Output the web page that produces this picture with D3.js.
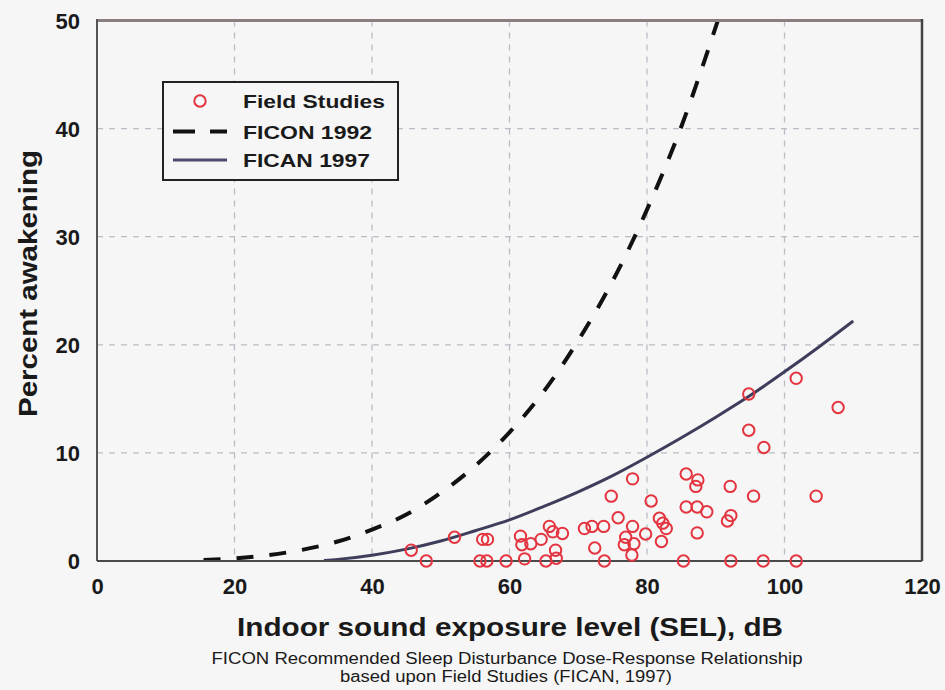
<!DOCTYPE html>
<html>
<head>
<meta charset="utf-8">
<script src="https://cdn.jsdelivr.net/npm/d3@7"></script>
<style>
  html, body { margin: 0; padding: 0; background: #f6f6f6; }
  svg { display: block; }
  text { font-family: "Liberation Sans", Arial, Helvetica, sans-serif; fill: #1a1a1a; }
</style>
</head>
<body>
<svg id="chart" width="945" height="690"></svg>
<script>
// ---- Data ----
const xTicks = [0, 20, 40, 60, 80, 100, 120];
const yTicks = [0, 10, 20, 30, 40, 50];

// Field studies: SEL (dB) and percent awakening
const fieldSEL = [45.7, 47.9, 52.0, 56.1, 56.8, 55.7, 56.7, 59.5, 61.6, 61.8,
                  62.2, 63.1, 64.6, 65.8, 66.3, 67.7, 66.7, 65.3, 66.8, 70.9,
                  72.0, 73.7, 75.8, 72.4, 73.8, 74.8, 77.9, 77.9, 76.9, 78.1,
                  79.8, 77.8, 80.6, 81.8, 82.3, 82.8, 82.1, 85.7, 87.4, 87.1,
                  92.1, 95.5, 104.6, 85.7, 87.3, 88.7, 92.2, 91.7, 87.3, 85.3,
                  92.2, 96.9, 101.7, 94.8, 101.7, 107.8, 94.8, 97.0, 76.7];
const fieldPct = [1.0, 0.0, 2.2, 2.0, 2.0, 0.0, 0.0, 0.0, 2.3, 1.5,
                  0.2, 1.6, 2.0, 3.2, 2.7, 2.55, 1.0, 0.0, 0.25, 3.0,
                  3.2, 3.2, 4.0, 1.2, 0.0, 6.0, 7.6, 3.2, 2.2, 1.6,
                  2.5, 0.55, 5.55, 3.95, 3.5, 3.0, 1.8, 8.05, 7.5, 6.9,
                  6.9, 6.0, 6.0, 5.0, 5.0, 4.55, 4.2, 3.7, 2.6, 0.0,
                  0.0, 0.0, 0.0, 15.45, 16.9, 14.2, 12.1, 10.5, 1.5];

// FICON 1992 curve (dashed)
const ficonSEL = [15.5, 20, 25, 30, 35, 40, 45, 50, 55, 60, 65, 70, 75, 80, 85, 90.3];
const ficonPct = [0.1, 0.25, 0.55, 1.05, 1.8, 2.9, 4.3, 6.3, 8.8, 11.9, 15.7, 20.4, 25.9, 32.5, 40.2, 50];

// FICAN 1997 curve (solid)
const ficanSEL = [33, 35, 40, 45, 50, 55, 60, 65, 70, 75, 80, 85, 90, 95, 100, 105, 110];
const ficanPct = [0.05, 0.15, 0.54, 1.1, 1.85, 2.8, 3.8, 5.05, 6.4, 7.9, 9.6, 11.4, 13.3, 15.3, 17.5, 19.8, 22.2];

const legendLabels = ["Field Studies", "FICON 1992", "FICAN 1997"];
const xTitle = "Indoor sound exposure level (SEL), dB";
const yTitle = "Percent awakening";
const caption = ["FICON Recommended Sleep Disturbance Dose-Response Relationship",
                 "based upon Field Studies (FICAN, 1997)"];

// ---- Drawing ----
const svg = d3.select("#chart");
const W = 945, H = 690;
const plot = { left: 97, right: 922, top: 20.5, bottom: 561 };

svg.append("rect").attr("width", W).attr("height", H).attr("fill", "#f6f6f6");

const x = d3.scaleLinear().domain([0, 120]).range([plot.left, plot.right]);
const y = d3.scaleLinear().domain([0, 50]).range([plot.bottom, plot.top]);

// grid
const grid = svg.append("g").attr("stroke", "#b9bdc6").attr("stroke-width", 1.3)
  .attr("stroke-dasharray", "6,6");
grid.selectAll("line.v").data(xTicks.filter(d => d > 0 && d < 120)).join("line")
  .attr("x1", d => x(d)).attr("x2", d => x(d))
  .attr("y1", plot.top).attr("y2", plot.bottom);
grid.selectAll("line.h").data(yTicks.filter(d => d > 0 && d < 50)).join("line")
  .attr("x1", plot.left).attr("x2", plot.right)
  .attr("y1", d => y(d)).attr("y2", d => y(d));

// curves
const line = d3.line().x(d => x(d[0])).y(d => y(d[1])).curve(d3.curveMonotoneX);
svg.append("path")
  .datum(ficanSEL.map((s, i) => [s, ficanPct[i]]))
  .attr("d", line).attr("fill", "none")
  .attr("stroke", "#3e3e5c").attr("stroke-width", 3);
svg.append("path")
  .datum(ficonSEL.map((s, i) => [s, ficonPct[i]]))
  .attr("d", line).attr("fill", "none")
  .attr("stroke", "#111").attr("stroke-width", 4)
  .attr("stroke-dasharray", "17,16");

// frame
svg.append("line").attr("x1", plot.left).attr("x2", plot.right)
  .attr("y1", plot.top).attr("y2", plot.top)
  .attr("stroke", "#8a7e7e").attr("stroke-width", 3);
svg.append("line").attr("x1", plot.left).attr("x2", plot.left)
  .attr("y1", plot.top - 1.5).attr("y2", plot.bottom)
  .attr("stroke", "#555").attr("stroke-width", 2);
svg.append("line").attr("x1", plot.right).attr("x2", plot.right)
  .attr("y1", plot.top - 1.5).attr("y2", plot.bottom)
  .attr("stroke", "#444").attr("stroke-width", 2.5);
svg.append("line").attr("x1", plot.left).attr("x2", plot.right)
  .attr("y1", plot.bottom).attr("y2", plot.bottom)
  .attr("stroke", "#4a4a4a").attr("stroke-width", 2);

// points
svg.append("g").selectAll("circle")
  .data(fieldSEL.map((s, i) => [s, fieldPct[i]]))
  .join("circle")
  .attr("cx", d => x(d[0])).attr("cy", d => y(d[1])).attr("r", 5.7)
  .attr("fill", "none").attr("stroke", "#e3343f").attr("stroke-width", 2);

// axes
const xAxis = svg.append("g").attr("transform", `translate(0,${plot.bottom})`)
  .call(d3.axisBottom(x).tickValues(xTicks).tickSize(0).tickFormat(d3.format("d")));
xAxis.select(".domain").remove();
xAxis.selectAll("text").attr("y", 0).attr("dy", null)
  .attr("transform", "translate(0,33)")
  .attr("font-size", 22).attr("font-weight", "bold").attr("fill", "#1a1a1a")
  .attr("font-family", "Liberation Sans, Arial, sans-serif");

const yAxis = svg.append("g").attr("transform", `translate(${plot.left},0)`)
  .call(d3.axisLeft(y).tickValues(yTicks).tickSize(0).tickPadding(17).tickFormat(d3.format("d")));
yAxis.select(".domain").remove();
yAxis.selectAll("text").attr("dy", "0.36em")
  .attr("font-size", 22).attr("font-weight", "bold").attr("fill", "#1a1a1a")
  .attr("font-family", "Liberation Sans, Arial, sans-serif");

// axis titles
svg.append("text").attr("x", 510).attr("y", 636).attr("text-anchor", "middle")
  .attr("font-size", 26).attr("font-weight", "bold")
  .attr("textLength", 546).attr("lengthAdjust", "spacingAndGlyphs")
  .text(xTitle);
svg.append("text").attr("transform", "translate(37,283.5) rotate(-90)")
  .attr("text-anchor", "middle")
  .attr("font-size", 25).attr("font-weight", "bold")
  .attr("textLength", 267).attr("lengthAdjust", "spacingAndGlyphs")
  .text(yTitle);

// caption
svg.append("text").attr("x", 507).attr("y", 664).attr("text-anchor", "middle")
  .attr("font-size", 16).attr("textLength", 591).attr("lengthAdjust", "spacingAndGlyphs")
  .text(caption[0]);
svg.append("text").attr("x", 506).attr("y", 682).attr("text-anchor", "middle")
  .attr("font-size", 16).attr("textLength", 332).attr("lengthAdjust", "spacingAndGlyphs")
  .text(caption[1]);

// legend
const lg = svg.append("g");
lg.append("rect").attr("x", 163).attr("y", 82).attr("width", 235).attr("height", 98)
  .attr("fill", "#f6f6f6").attr("stroke", "#222").attr("stroke-width", 2);
const rowsY = [101, 131.5, 160];
const lens = [142, 129, 127];
lg.append("circle").attr("cx", 200).attr("cy", rowsY[0]).attr("r", 5.7)
  .attr("fill", "none").attr("stroke", "#e3343f").attr("stroke-width", 2);
lg.append("line").attr("x1", 173).attr("x2", 227).attr("y1", rowsY[1]).attr("y2", rowsY[1])
  .attr("stroke", "#111").attr("stroke-width", 4).attr("stroke-dasharray", "22,15");
lg.append("line").attr("x1", 173).attr("x2", 227).attr("y1", rowsY[2]).attr("y2", rowsY[2])
  .attr("stroke", "#4a4a6a").attr("stroke-width", 3);
lg.selectAll("text.lab").data(legendLabels).join("text")
  .attr("x", 243).attr("y", (d, i) => rowsY[i] + 7)
  .attr("font-size", 19).attr("font-weight", "bold")
  .attr("textLength", (d, i) => lens[i]).attr("lengthAdjust", "spacingAndGlyphs")
  .text(d => d);
</script>
</body>
</html>
